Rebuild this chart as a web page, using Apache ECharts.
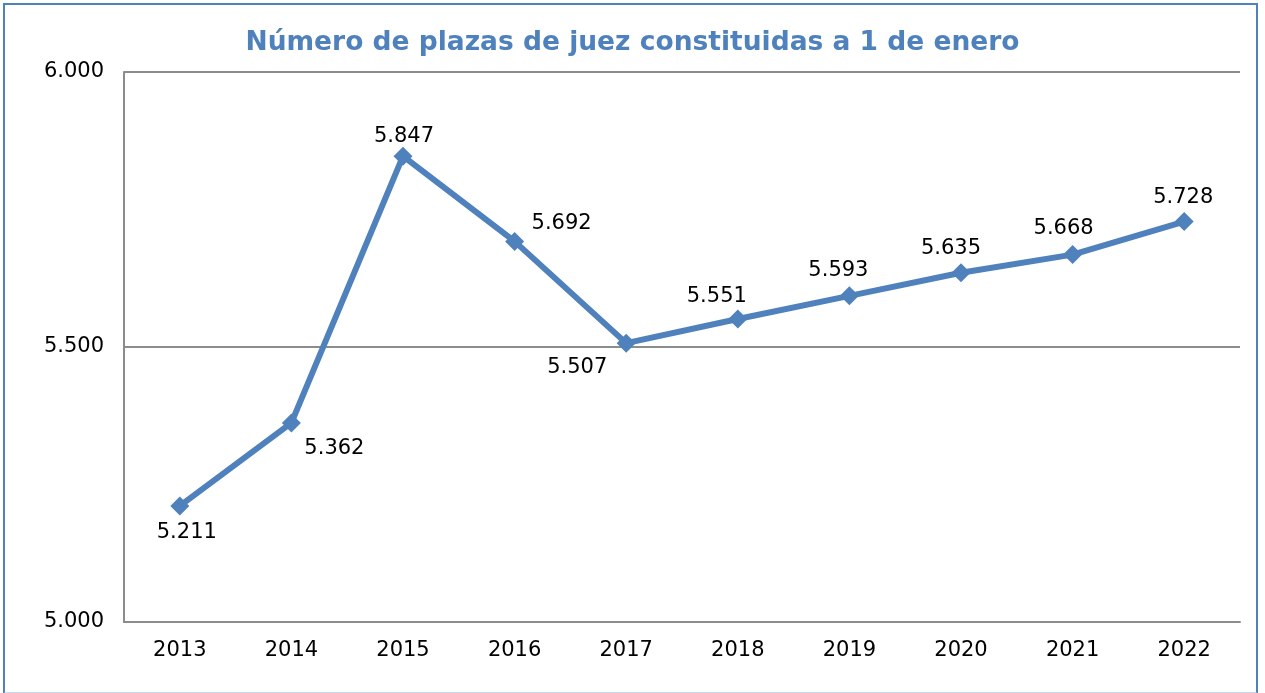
<!DOCTYPE html>
<html>
<head>
<meta charset="utf-8">
<script src="https://cdn.jsdelivr.net/npm/echarts@6/dist/echarts.min.js"></script>
<style>
  html, body { margin: 0; padding: 0; background: #fff; }
  #frame { position: absolute; left: 3px; top: 3px; width: 1255px; height: 691px; border: 2px solid #4F81BD; border-bottom-color: #C6D9F1; box-sizing: border-box; }
  #chart { position: absolute; left: 0; top: 0; width: 1265px; height: 693px; }
</style>
</head>
<body>
<div id="frame"></div>
<div id="chart"></div>
<script>
// datos
const years = ['2013', '2014', '2015', '2016', '2017', '2018', '2019', '2020', '2021', '2022'];
const plazas = [5211, 5362, 5847, 5692, 5507, 5551, 5593, 5635, 5668, 5728];
const yTicks = [5000, 5500, 6000];

// desplazamiento de cada etiqueta respecto a su punto
const labelOffsets = [[7, 27], [43, 26], [1, -20], [47, -18], [-49, 24], [-21, -22], [-11, -25], [-10, -24], [-9, -26], [-1, -24]];

const fmt = v => String(v).replace(/\B(?=(\d{3})+(?!\d))/g, '.');

const chart = echarts.init(document.getElementById('chart'));
chart.setOption({
  animation: false,
  title: {
    text: 'Número de plazas de juez constituidas a 1 de enero',
    left: 'center',
    top: 25,
    textStyle: { fontFamily: 'DejaVu Sans', fontWeight: 'bold', fontSize: 26.5, color: '#4F81BD' }
  },
  grid: { left: 124, right: 25, top: 72, bottom: 71 },
  xAxis: {
    type: 'category',
    data: years,
    boundaryGap: true,
    axisLine: { lineStyle: { color: '#8C8C8C', width: 2 } },
    axisTick: { show: false },
    axisLabel: { color: '#000', fontFamily: 'DejaVu Sans', fontSize: 21, margin: 18 }
  },
  yAxis: {
    type: 'value',
    min: yTicks[0],
    max: yTicks[yTicks.length - 1],
    interval: 500,
    axisLine: { show: true, lineStyle: { color: '#8C8C8C', width: 2 } },
    axisTick: { show: false },
    splitLine: { lineStyle: { color: '#8C8C8C', width: 2 } },
    axisLabel: { color: '#000', fontFamily: 'DejaVu Sans', fontSize: 21, margin: 20, formatter: fmt }
  },
  series: [{
    type: 'line',
    data: plazas.map((v, i) => ({
      value: v,
      label: { offset: labelOffsets[i] }
    })),
    symbol: 'diamond',
    symbolSize: 19,
    lineStyle: { color: '#4F81BD', width: 6 },
    itemStyle: { color: '#4F81BD' },
    label: {
      show: true,
      position: 'inside',
      color: '#000',
      fontFamily: 'DejaVu Sans',
      fontSize: 21,
      formatter: p => fmt(p.value)
    }
  }]
});
</script>
</body>
</html>
